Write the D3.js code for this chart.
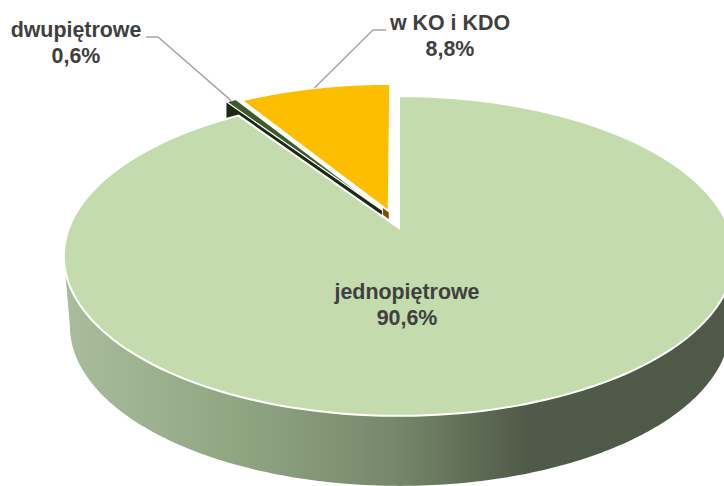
<!DOCTYPE html>
<html><head><meta charset="utf-8">
<script src="https://cdn.jsdelivr.net/npm/d3@7/dist/d3.min.js"></script>
<style>html,body{margin:0;padding:0;background:#fff;overflow:hidden}svg{display:block}</style>
</head><body><svg id="c" width="724" height="486"></svg>
<script>
const categories = ["jednopiętrowe", "dwupiętrowe", "w KO i KDO"];
const values = [90.6, 0.6, 8.8];
const valueLabels = ["90,6%", "0,6%", "8,8%"];
const explode = [0, 0.13, 0.115];
const explodeDeg = [0, -24, -16];
const topColors = ["#c3dbad", "#3d5a2b", "#fdbd00"];
const wallColors = [null, "#1f2a13", "#7a5000"];

const W = 724, H = 486;
const svg = d3.select("#c");
const top3d = {cx: 399, ay: 228, A: 155, B: 330, p: 0.175};
const base3d = {cx: 400, ay: 298, A: 155, B: 325, p: 0.175};
const project = (P, X, Y) => { const w = 1 + P.p * Y; return [P.cx + P.B * X / w, P.ay - P.A * Y / w]; };
const TAU = Math.PI * 2;
const pie = d3.pie().sort(null).startAngle(0).endAngle(TAU);
const arcs = pie(values);
const line = d3.line();
const offsetOf = (a, i) => { const m = explodeDeg[i] * Math.PI / 180; return [explode[i] * Math.sin(m), explode[i] * Math.cos(m)]; };
const rim = (P, a0, a1, off, n = 200) => d3.range(n + 1).map(k => {
  const t = a0 + (a1 - a0) * k / n;
  return project(P, off[0] + Math.sin(t), off[1] + Math.cos(t));
});
const slicePath = (a, i) => {
  const off = offsetOf(a, i);
  return line([project(top3d, off[0], off[1]), ...rim(top3d, a.startAngle, a.endAngle, off)]) + "Z";
};

// outer wall of the main slice
const defs = svg.append("defs");
const grad = defs.append("linearGradient").attr("id", "wall").attr("gradientUnits", "userSpaceOnUse")
  .attr("x1", 64).attr("x2", 724).attr("y1", 0).attr("y2", 0);
[[0, "#a9bd9c"], [0.27, "#8fa582"], [0.5, "#76886a"], [0.7, "#505a48"], [1, "#4f5948"]]
  .forEach(s => grad.append("stop").attr("offset", s[0]).attr("stop-color", s[1]));

const aL = TAU * 0.722, aR = TAU * 0.278;
const wall = [...rim(top3d, aR, aL, [0, 0]), ...rim(base3d, aL, aR, [0, 0])];
svg.append("path").attr("d", line(wall) + "Z").attr("fill", "url(#wall)");

// cut faces of the exploded slices
const dark = arcs[1], yellow = arcs[2];
const darkOff = offsetOf(dark, 1), yelOff = offsetOf(yellow, 2);
const edge = (a, off, ang, frac) => {
  const c = project(top3d, off[0], off[1]);
  const e = project(top3d, off[0] + frac * Math.sin(ang), off[1] + frac * Math.cos(ang));
  return [c, e];
};
const [yc, ye] = edge(yellow, yelOff, yellow.startAngle, 0.035);
svg.append("path").attr("d", line([yc, ye, [ye[0], ye[1] + 8], [yc[0], yc[1] + 8]]) + "Z").attr("fill", wallColors[2]);
const [dc, de] = edge(dark, darkOff, dark.startAngle, 1);
svg.append("path").attr("d", line([dc, de, [de[0], de[1] + 16], [dc[0], dc[1] + 16]]) + "Z").attr("fill", wallColors[1]);

// top faces, small slices first
[2, 1, 0].forEach(i => {
  svg.append("path").attr("d", slicePath(arcs[i], i)).attr("fill", topColors[i])
    .attr("stroke", "#fff").attr("stroke-width", i === 1 ? 1.2 : 2).attr("stroke-linejoin", "miter");
});

// leader lines
const anchor = i => { const a = arcs[i], off = offsetOf(a, i), m = (a.startAngle + a.endAngle) / 2;
  return project(top3d, off[0] + Math.sin(m), off[1] + Math.cos(m)); };
const leaders = [[1, [146, 37], [158, 37]], [2, [386, 30], [373, 30]]];
leaders.forEach(([i, p0, p1]) => {
  svg.append("path").attr("d", line([p0, p1, anchor(i)])).attr("fill", "none")
    .attr("stroke", "#a6a6a6").attr("stroke-width", 1.5);
});

// labels
const labelPos = [[407, 299], [76, 37], [450, 30]];
categories.forEach((c, i) => {
  const t = svg.append("text").attr("text-anchor", "middle")
    .attr("font-family", "'Liberation Sans', Arial, sans-serif").attr("font-weight", 700)
    .attr("font-size", 21.4).attr("fill", "#404040");
  t.append("tspan").attr("x", labelPos[i][0]).attr("y", labelPos[i][1]).text(c);
  t.append("tspan").attr("x", labelPos[i][0]).attr("y", labelPos[i][1] + 26).text(valueLabels[i]);
});
</script></body></html>
